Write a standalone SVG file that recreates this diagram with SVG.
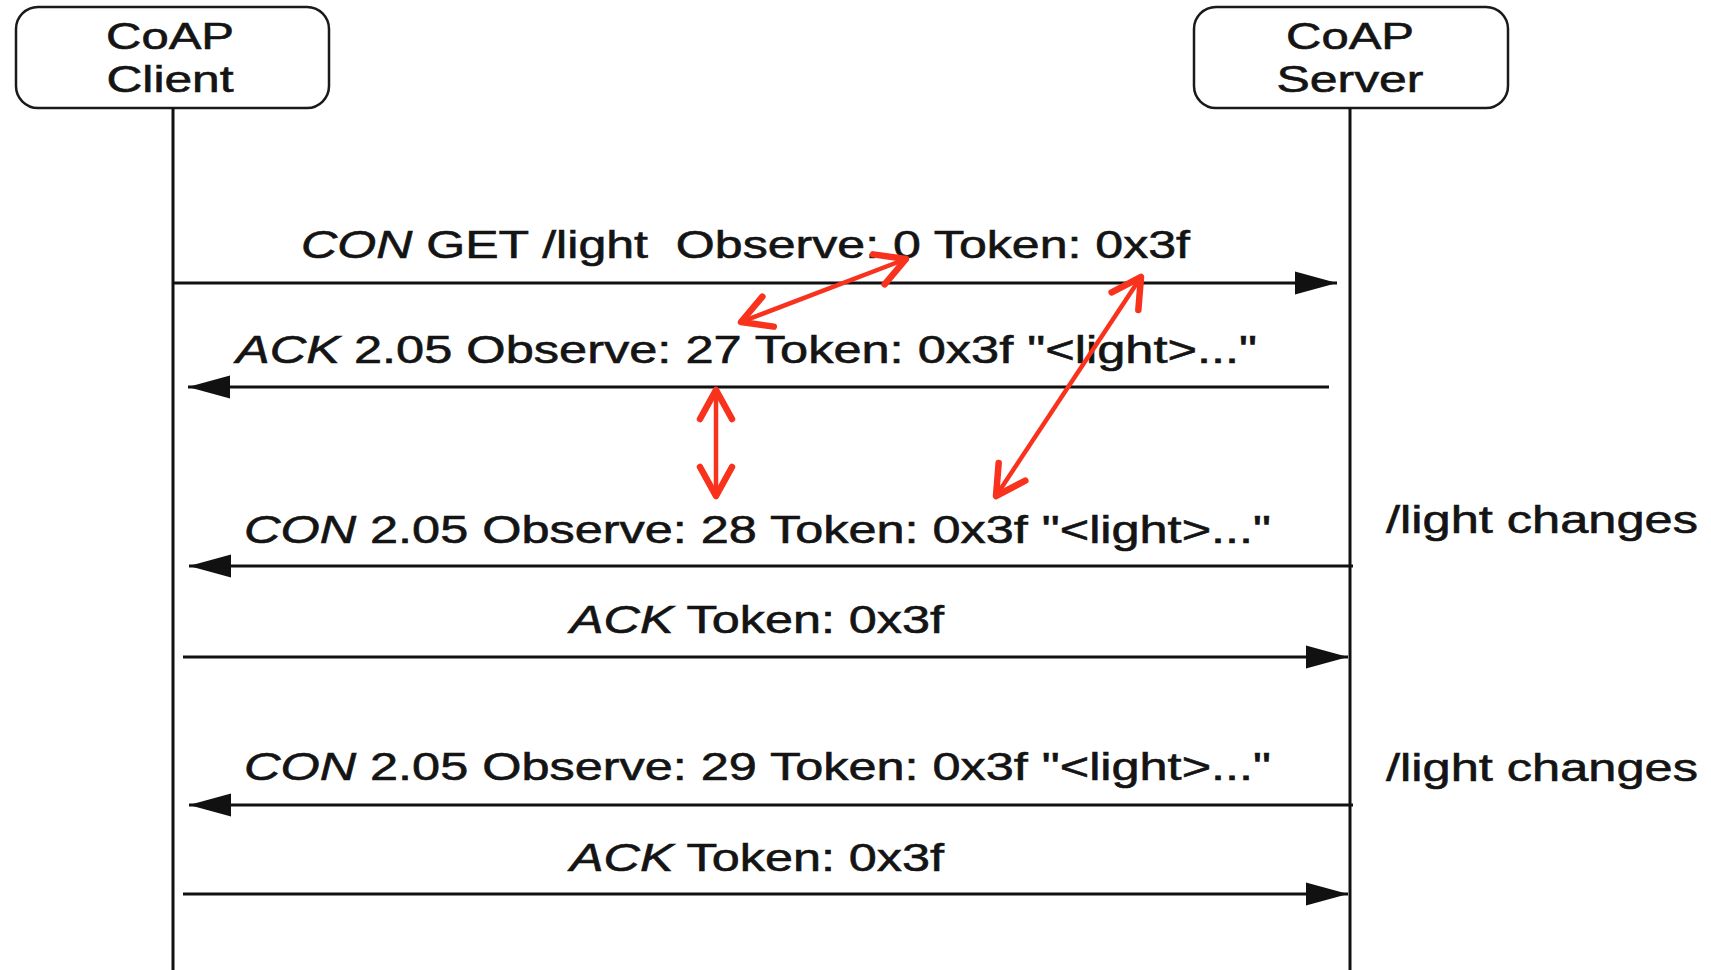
<svg xmlns="http://www.w3.org/2000/svg" width="1711" height="970" viewBox="0 0 1711 970">
  <style>
    .box { fill: #ffffff; stroke: #1a1a1a; stroke-width: 2.5; }
    .life { stroke: #111111; stroke-width: 3; fill: none; }
    .msg { stroke: #111111; stroke-width: 3; fill: none; marker-end: url(#ah); }
    .lbl { font-family: "Liberation Sans", Arial, sans-serif; font-size: 39px; fill: #141414; stroke: #141414; stroke-width: 0.6; white-space: pre; }
    .head { font-family: "Liberation Sans", Arial, sans-serif; font-size: 37px; fill: #141414; stroke: #141414; stroke-width: 0.6; text-anchor: middle; }
    .it { font-style: italic; }
    .hl { stroke: #f8321c; stroke-width: 4.5; fill: none; marker-start: url(#rh); marker-end: url(#rh); }
  </style>
  <defs>
    <marker id="ah" markerUnits="userSpaceOnUse" viewBox="-44 -14 46 28" markerWidth="46" markerHeight="28" refX="0" refY="0" orient="auto">
      <path d="M0,0 L-42,-11.5 L-42,11.5 Z" fill="#111111"/>
    </marker>
    <marker id="rh" markerUnits="userSpaceOnUse" viewBox="-38 -24 46 48" markerWidth="46" markerHeight="48" refX="0" refY="0" orient="auto-start-reverse">
      <path d="M-29,-16 L0,0 L-29,16" fill="none" stroke="#f8321c" stroke-width="6.5" stroke-linecap="round" stroke-linejoin="round"/>
    </marker>
  </defs>

  <rect width="1711" height="970" fill="#ffffff"/>

  <!-- participants -->
  <g id="client">
    <rect class="box" x="16" y="7" width="313" height="101" rx="22" ry="22"/>
    <text class="head" x="170" y="49" textLength="128" lengthAdjust="spacingAndGlyphs">CoAP</text>
    <text class="head" x="170" y="92" textLength="127" lengthAdjust="spacingAndGlyphs">Client</text>
    <line class="life" x1="173" y1="108" x2="173" y2="970"/>
  </g>
  <g id="server">
    <rect class="box" x="1194" y="7" width="314" height="101" rx="22" ry="22"/>
    <text class="head" x="1350" y="49" textLength="128" lengthAdjust="spacingAndGlyphs">CoAP</text>
    <text class="head" x="1350" y="92" textLength="147" lengthAdjust="spacingAndGlyphs">Server</text>
    <line class="life" x1="1350" y1="108" x2="1350" y2="970"/>
  </g>

  <!-- messages -->
  <g id="connectors">
    <line class="msg" x1="173" y1="283" x2="1337" y2="283"/>
    <line class="msg" x1="1329" y1="387" x2="188" y2="387"/>
    <line class="msg" x1="1353" y1="566" x2="189" y2="566"/>
    <line class="msg" x1="183" y1="657" x2="1348" y2="657"/>
    <line class="msg" x1="1353" y1="805" x2="189" y2="805"/>
    <line class="msg" x1="183" y1="894" x2="1348" y2="894"/>
  </g>

  <g id="labels">
    <text class="lbl" x="301" y="258" textLength="889" lengthAdjust="spacingAndGlyphs"><tspan class="it">CON</tspan> GET /light  Observe: 0 Token: 0x3f</text>
    <text class="lbl" x="236" y="363" textLength="1021" lengthAdjust="spacingAndGlyphs"><tspan class="it">ACK</tspan> 2.05 Observe: 27 Token: 0x3f "&lt;light&gt;..."</text>
    <text class="lbl" x="244" y="543" textLength="1027" lengthAdjust="spacingAndGlyphs"><tspan class="it">CON</tspan> 2.05 Observe: 28 Token: 0x3f "&lt;light&gt;..."</text>
    <text class="lbl" x="570" y="633" textLength="374" lengthAdjust="spacingAndGlyphs"><tspan class="it">ACK</tspan> Token: 0x3f</text>
    <text class="lbl" x="244" y="780" textLength="1027" lengthAdjust="spacingAndGlyphs"><tspan class="it">CON</tspan> 2.05 Observe: 29 Token: 0x3f "&lt;light&gt;..."</text>
    <text class="lbl" x="570" y="871" textLength="374" lengthAdjust="spacingAndGlyphs"><tspan class="it">ACK</tspan> Token: 0x3f</text>
  </g>

  <g id="notes">
    <text class="lbl" x="1386" y="533" textLength="312" lengthAdjust="spacingAndGlyphs">/light changes</text>
    <text class="lbl" x="1386" y="781" textLength="312" lengthAdjust="spacingAndGlyphs">/light changes</text>
  </g>

  <!-- red correlation arrows -->
  <g id="highlights">
    <line class="hl" x1="906" y1="259" x2="741" y2="322"/>
    <line class="hl" x1="1141" y1="277" x2="996" y2="496"/>
    <line class="hl" x1="716" y1="390" x2="716" y2="496"/>
  </g>
</svg>
